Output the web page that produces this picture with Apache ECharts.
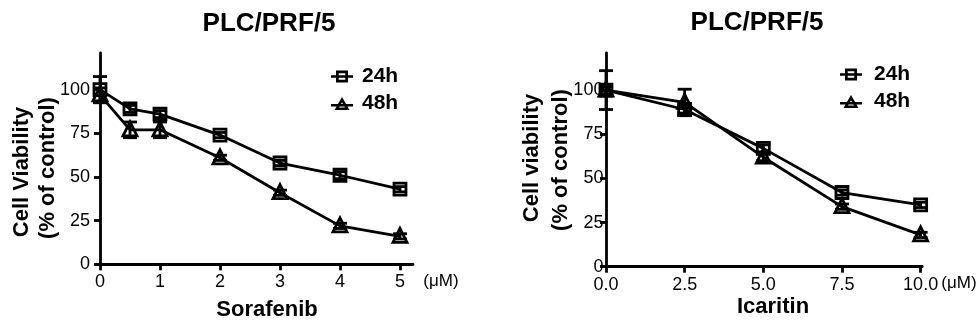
<!DOCTYPE html>
<html>
<head>
<meta charset="utf-8">
<script src="https://cdn.jsdelivr.net/npm/echarts@6/dist/echarts.min.js"></script>
<style>html,body{margin:0;padding:0;background:#fff;}#c{width:979px;height:327px;}</style>
</head>
<body>
<div id="c"></div>
<script>
// ---- data ----
const sorafenibDoses = [0, 0.5, 1, 2, 3, 4, 5];
const sor24 = [100, 89, 86, 74, 58, 51, 43];
const sor48 = [97, 77, 77, 61, 41, 22, 16];
const sor24Err = [7.5, 2, 2, 1.5, 1.5, 2, 1.5];
const sor48Err = [4, 4.5, 4.5, 1.5, 1.5, 1.5, 1.5];

const icaritinDoses = [0, 2.5, 5, 7.5, 10];
const ica24 = [100, 89, 67, 42, 35];
const ica48 = [100, 93, 62, 34, 18];
const ica24Err = [11, 2, 2, 1.5, 1.5];
const ica48Err = [2, 7.5, 2, 1.5, 1.5];

const seriesNames = ['24h', '48h'];
const yTicks = [0, 25, 50, 75, 100];
const sorTicks = [0, 1, 2, 3, 4, 5];
const icaTicks = [0, 2.5, 5, 7.5, 10];

const FONT = 'Liberation Sans, Arial, sans-serif';
const chart = echarts.init(document.getElementById('c'));

// legend icons: line through hollow marker
const ICON_SQUARE = 'path://M0 4.7L22 4.7L22 7.3L0 7.3Z M5 0L17 0L17 12L5 12Z M7.7 2.7L7.7 9.3L14.3 9.3L14.3 2.7Z';
const ICON_TRI = 'path://M0 6.9L22 6.9L22 9.5L0 9.5Z M11 0L18.5 13L3.5 13Z M11 5.2L8 10.4L14 10.4Z';

function pts(xs, ys) { return xs.map((x, i) => [x, ys[i]]); }
function errs(xs, ys, es) { return xs.map((x, i) => [x, ys[i] - es[i], ys[i] + es[i]]); }

function errRender(params, api) {
  const x = api.value(0);
  const lo = api.coord([x, api.value(1)]);
  const hi = api.coord([x, api.value(2)]);
  const hw = 7;
  const st = { stroke: '#000', lineWidth: 2.8 };
  return {
    type: 'group',
    children: [
      { type: 'line', shape: { x1: lo[0], y1: lo[1], x2: hi[0], y2: hi[1] }, style: st },
      { type: 'line', shape: { x1: lo[0] - hw, y1: lo[1], x2: lo[0] + hw, y2: lo[1] }, style: st },
      { type: 'line', shape: { x1: hi[0] - hw, y1: hi[1], x2: hi[0] + hw, y2: hi[1] }, style: st }
    ]
  };
}

function xAxisCfg(idx, min, max, ticks, fmt) {
  return {
    type: 'value', gridIndex: idx, min: min, max: max,
    axisLine: { onZero: false, lineStyle: { color: '#000', width: 2.8 } },
    axisTick: { customValues: ticks, length: 6, lineStyle: { color: '#000', width: 2.8 } },
    axisLabel: { customValues: ticks, color: '#000', fontSize: 18, fontFamily: FONT, margin: 9, formatter: fmt },
    splitLine: { show: false }
  };
}
function yAxisCfg(idx, margin) {
  return {
    type: 'value', gridIndex: idx, min: 0, max: 121,
    axisLine: { show: true, onZero: true, lineStyle: { color: '#000', width: 2.8 } },
    axisTick: { show: true, customValues: yTicks, length: 6, lineStyle: { color: '#000', width: 2.8 } },
    axisLabel: { customValues: yTicks, color: '#000', fontSize: 18, fontFamily: FONT, margin: margin },
    splitLine: { show: false }
  };
}
function lineSeries(name, xi, data, sym, size, offY) {
  return {
    type: 'line', name: name, xAxisIndex: xi, yAxisIndex: xi, data: data,
    symbol: sym, symbolSize: size, symbolOffset: [0, offY], showSymbol: true, z: 5,
    lineStyle: { color: '#000', width: 2.8 },
    itemStyle: { color: 'transparent', borderColor: '#000', borderWidth: 2.8 }
  };
}
function errSeries(xi, data) {
  return { type: 'custom', xAxisIndex: xi, yAxisIndex: xi, data: data, renderItem: errRender, z: 3, silent: true };
}
function legendCfg(left, top, pad) {
  return {
    data: [ { name: seriesNames[0], icon: ICON_SQUARE }, { name: seriesNames[1], icon: ICON_TRI } ],
    orient: 'vertical', left: left, top: top, padding: 0,
    itemWidth: 22, itemHeight: 13, itemGap: 6, selectedMode: false,
    itemStyle: { color: '#000', borderWidth: 0 },
    textStyle: { color: '#000', fontSize: 21, fontWeight: 'bold', fontFamily: FONT, padding: [0, 0, 0, pad] }
  };
}
function txt(x, y, s, size, bold, rot) {
  return {
    type: 'text', x: x, y: y, rotation: rot || 0,
    style: { text: s, fill: '#000', font: (bold ? 'bold ' : '') + size + 'px ' + FONT, align: 'center', verticalAlign: 'middle' }
  };
}

chart.setOption({
  animation: false,
  backgroundColor: '#fff',
  grid: [
    { left: 97, top: 53, width: 316, height: 211.3 },
    { left: 604.4, top: 53, width: 317.8, height: 213.7 }
  ],
  xAxis: [
    xAxisCfg(0, -0.05, 5.217, sorTicks, v => String(v)),
    xAxisCfg(1, -0.05, 10.05, icaTicks, v => v.toFixed(1))
  ],
  yAxis: [ yAxisCfg(0, 7), yAxisCfg(1, 1) ],
  legend: [ legendCfg(331, 66, 4), legendCfg(840, 64, 7) ],
  series: [
    errSeries(0, errs(sorafenibDoses, sor24, sor24Err)),
    errSeries(0, errs(sorafenibDoses, sor48, sor48Err)),
    lineSeries(seriesNames[0], 0, pts(sorafenibDoses, sor24), 'rect', 12, 0),
    lineSeries(seriesNames[1], 0, pts(sorafenibDoses, sor48), 'triangle', 14, -1),
    errSeries(1, errs(icaritinDoses, ica24, ica24Err)),
    errSeries(1, errs(icaritinDoses, ica48, ica48Err)),
    lineSeries(seriesNames[0], 1, pts(icaritinDoses, ica24), 'rect', 12, 0),
    lineSeries(seriesNames[1], 1, pts(icaritinDoses, ica48), 'triangle', 14, -1)
  ],
  graphic: [
    txt(269, 24, 'PLC/PRF/5', 26, true),
    txt(757, 23, 'PLC/PRF/5', 26, true),
    txt(22, 172, 'Cell Viability', 22, true, Math.PI / 2),
    txt(48, 168, '(% of control)', 22, true, Math.PI / 2),
    txt(532, 158, 'Cell viability', 22, true, Math.PI / 2),
    txt(561, 160, '(% of control)', 22, true, Math.PI / 2),
    txt(267, 310, 'Sorafenib', 22, true),
    txt(773, 307, 'Icaritin', 22, true),
    txt(441, 281, '(μM)', 17, false),
    txt(959, 283, '(μM)', 17, false)
  ]
});
</script>
</body>
</html>
